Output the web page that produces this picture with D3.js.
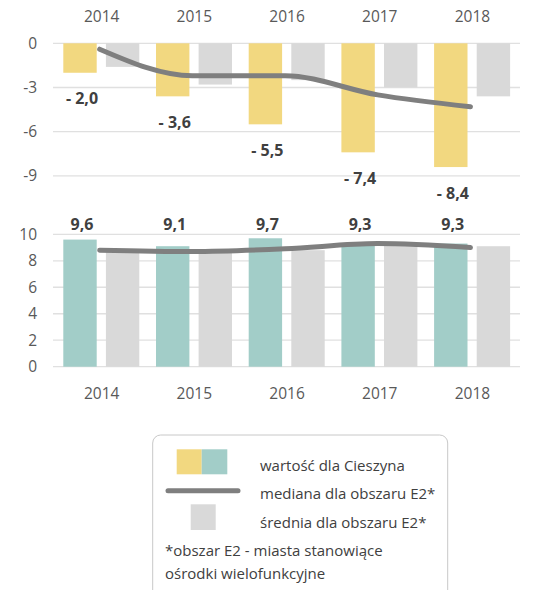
<!DOCTYPE html>
<html>
<head>
<meta charset="utf-8">
<script src="https://cdn.jsdelivr.net/npm/d3@7"></script>
<style>
  html, body { margin: 0; padding: 0; background: #fff; }
  svg { display: block; font-family: "Open Sans", Lato, sans-serif; }
</style>
</head>
<body>
<svg id="chart" width="535" height="590"></svg>
<script>
// Years on the category axis
const years = ["2014", "2015", "2016", "2017", "2018"];

// Upper panel: Cieszyn value, E2 average, E2 median
const topCity   = [-2.0, -3.6, -5.5, -7.4, -8.4];
const topAvg    = [-1.6, -2.8, -2.5, -3.0, -3.6];
const topMedian = [-0.4, -2.2, -2.2, -3.5, -4.3];
const topTicks  = [0, -3, -6, -9];

// Lower panel: Cieszyn value, E2 average, E2 median
const botCity   = [9.6, 9.1, 9.7, 9.3, 9.3];
const botAvg    = [8.7, 8.7, 8.8, 9.2, 9.1];
const botMedian = [8.8, 8.7, 8.9, 9.3, 9.0];
const botTicks  = [0, 2, 4, 6, 8, 10];

// Legend entries
const legendLabels = ["wartość dla Cieszyna", "mediana dla obszaru E2*", "średnia dla obszaru E2*"];
const footnote = ["*obszar E2 - miasta stanowiące", "ośrodki wielofunkcyjne"];

const COL_YELLOW = "#f2d880";
const COL_TEAL = "#a2cdc8";
const COL_GRAY = "#d9d9d9";
const COL_LINE = "#7f7f7f";
const COL_GRID = "#e0e0e0";
const COL_AXIS_TEXT = "#595959";
const COL_LABEL = "#404040";

const svg = d3.select("#chart");

const x = d3.scaleBand().domain(years).range([53.3, 516.8]).padding(0);
const sub = d3.scaleBand().domain(["city", "avg"]).range([10, 86]).paddingInner(0.216).paddingOuter(0);

const fmt = v => String(Math.abs(v).toFixed(1)).replace(".", ",");

const lineGen = (xs, ys) => d3.line()
  .x((d, i) => x(years[i]) + x.bandwidth() / 2)
  .y(d => ys(d))
  .curve(d3.curveMonotoneX);

function panel(opts) {
  const { y, ticks, city, avg, median, cityColor, yearY, labelFn, gridX2 } = opts;
  const g = svg.append("g");

  // horizontal gridlines
  g.selectAll("line.grid").data(ticks).join("line")
    .attr("x1", 53).attr("x2", gridX2)
    .attr("y1", d => y(d)).attr("y2", d => y(d))
    .attr("stroke", COL_GRID).attr("stroke-width", 1.3);

  // tick labels
  g.selectAll("text.tick").data(ticks).join("text")
    .attr("x", 37).attr("y", d => y(d))
    .attr("text-anchor", "end").attr("dy", "0.35em")
    .attr("font-size", 15.5).attr("fill", COL_AXIS_TEXT)
    .text(d => String(d));

  // average bars
  g.selectAll("rect.avg").data(avg).join("rect")
    .attr("x", (d, i) => x(years[i]) + sub("avg"))
    .attr("width", sub.bandwidth())
    .attr("y", d => Math.min(y(0), y(d)))
    .attr("height", d => Math.abs(y(d) - y(0)))
    .attr("fill", COL_GRAY);

  // city bars
  g.selectAll("rect.city").data(city).join("rect")
    .attr("x", (d, i) => x(years[i]) + sub("city"))
    .attr("width", sub.bandwidth())
    .attr("y", d => Math.min(y(0), y(d)))
    .attr("height", d => Math.abs(y(d) - y(0)))
    .attr("fill", cityColor);

  // median line
  g.append("path")
    .datum(median)
    .attr("d", lineGen(x, y))
    .attr("fill", "none")
    .attr("stroke", COL_LINE)
    .attr("stroke-width", 5)
    .attr("stroke-linecap", "round")
    .attr("stroke-linejoin", "round");

  // category labels
  g.selectAll("text.year").data(years).join("text")
    .attr("x", d => x(d) + x.bandwidth() / 2 + 2)
    .attr("y", yearY).attr("dy", "0.35em")
    .attr("text-anchor", "middle")
    .attr("font-size", 15.5).attr("fill", COL_AXIS_TEXT)
    .text(d => d);

  // value labels
  g.selectAll("text.val").data(city).join("text")
    .attr("x", (d, i) => x(years[i]) + sub("city") + sub.bandwidth() / 2 + 2)
    .attr("y", (d, i) => labelFn(d, i)).attr("dy", "0.35em")
    .attr("text-anchor", "middle")
    .attr("font-size", 16).attr("font-weight", "bold").attr("fill", COL_LABEL)
    .text(d => (d < 0 ? "- " : "") + fmt(d));
}

// Upper panel
const yTop = d3.scaleLinear().domain([0, -9]).range([43.3, 175.9]);
panel({
  y: yTop, ticks: topTicks, city: topCity, avg: topAvg, median: topMedian,
  cityColor: COL_YELLOW, yearY: 16.7, gridX2: 520,
  labelFn: d => yTop(d) + 26
});

// Lower panel
const yBot = d3.scaleLinear().domain([0, 10]).range([366.7, 234.3]);
panel({
  y: yBot, ticks: botTicks, city: botCity, avg: botAvg, median: botMedian,
  cityColor: COL_TEAL, yearY: 394, gridX2: 520,
  labelFn: () => yBot(10) - 9.5
});

// Legend
const lg = svg.append("g");
lg.append("rect")
  .attr("x", 152.7).attr("y", 435).attr("width", 295).attr("height", 180)
  .attr("rx", 8).attr("fill", "#fff").attr("stroke", "#c8c8c8").attr("stroke-width", 1);

lg.append("rect").attr("x", 176.7).attr("y", 449.3).attr("width", 25).attr("height", 25).attr("fill", COL_YELLOW);
lg.append("rect").attr("x", 201.7).attr("y", 449.3).attr("width", 25.6).attr("height", 25).attr("fill", COL_TEAL);
lg.append("line").attr("x1", 168).attr("x2", 238).attr("y1", 490.7).attr("y2", 490.7)
  .attr("stroke", COL_LINE).attr("stroke-width", 5).attr("stroke-linecap", "round");
lg.append("rect").attr("x", 190.7).attr("y", 504.3).attr("width", 25).attr("height", 25.7).attr("fill", COL_GRAY);

const legendY = [466, 494, 522.3];
lg.selectAll("text.item").data(legendLabels).join("text")
  .attr("x", 260).attr("y", (d, i) => legendY[i]).attr("dy", "0.35em")
  .attr("font-size", 15).attr("fill", COL_LABEL)
  .text(d => d);

const footY = [550.7, 573.3];
lg.selectAll("text.foot").data(footnote).join("text")
  .attr("x", 165).attr("y", (d, i) => footY[i]).attr("dy", "0.35em")
  .attr("font-size", 15).attr("fill", COL_LABEL)
  .text(d => d);
</script>
</body>
</html>
